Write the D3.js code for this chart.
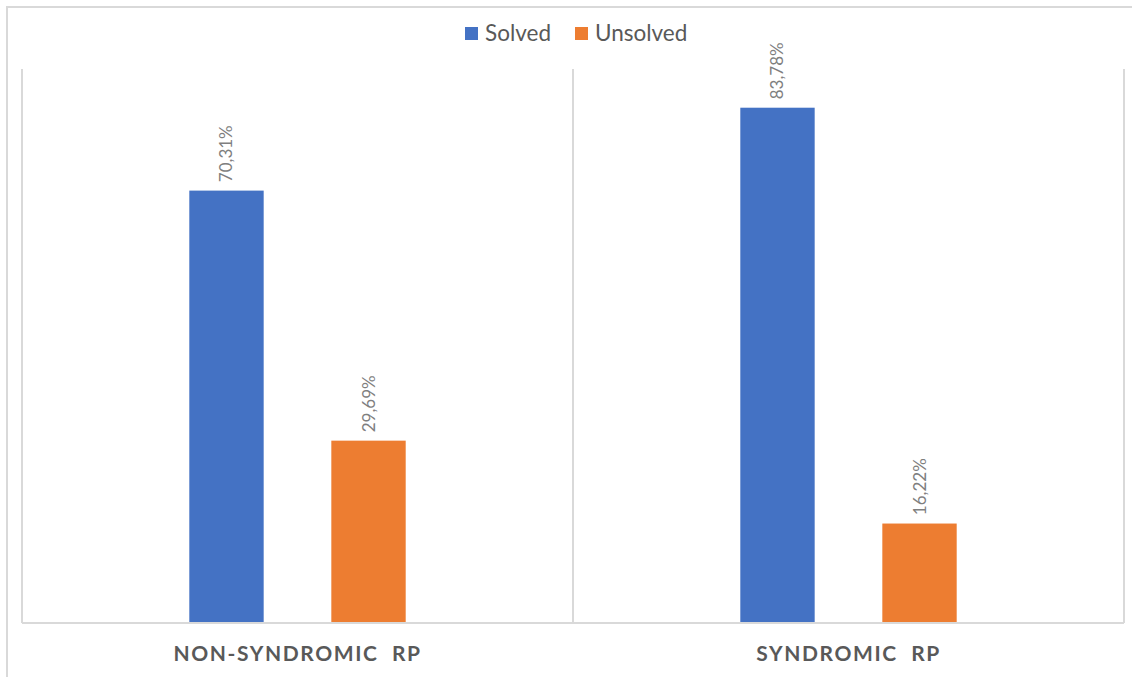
<!DOCTYPE html>
<html>
<head>
<meta charset="utf-8">
<script src="https://cdn.jsdelivr.net/npm/d3@7"></script>
<style>
  html, body { margin: 0; padding: 0; background: #fff; }
  svg { display: block; }
</style>
</head>
<body>
<svg id="chart" width="1132" height="677"></svg>
<script>
const categories = ["NON-SYNDROMIC  RP", "SYNDROMIC  RP"];
const seriesNames = ["Solved", "Unsolved"];
const solvedValues = [70.31, 83.78];
const unsolvedValues = [29.69, 16.22];
const valueLabels = [["70,31%", "29,69%"], ["83,78%", "16,22%"]];
const colors = ["#4472C4", "#ED7D31"];

const svg = d3.select("#chart");
const W = 1132, H = 677;
const plot = { left: 22, right: 1124, top: 69, bottom: 623 };

// outer frame (extends past right/bottom edge of the picture)
svg.append("rect")
  .attr("x", 7).attr("y", 7).attr("width", W + 20).attr("height", H + 20)
  .attr("fill", "#fff").attr("stroke", "#d9d9d9").attr("stroke-width", 2);

const x0 = d3.scaleBand().domain(categories).range([plot.left, plot.right]).padding(0);
const x1 = d3.scaleBand().domain(seriesNames).range([0, x0.bandwidth()])
  .paddingInner(0.472).paddingOuter(1.176);
const y = d3.scaleLinear().domain([0, 90]).range([plot.bottom, plot.top]);

// category separators (vertical gridlines)
const bounds = [plot.left, ...categories.map(c => x0(c) + x0.bandwidth())];
svg.append("g").selectAll("line").data(bounds).join("line")
  .attr("x1", d => d).attr("x2", d => d)
  .attr("y1", plot.top).attr("y2", plot.bottom)
  .attr("stroke", "#d9d9d9").attr("stroke-width", 2);

const data = categories.map((c, i) => ({
  cat: c,
  vals: [
    { s: seriesNames[0], v: solvedValues[i], label: valueLabels[i][0], color: colors[0] },
    { s: seriesNames[1], v: unsolvedValues[i], label: valueLabels[i][1], color: colors[1] }
  ]
}));

const groups = svg.append("g").selectAll("g").data(data).join("g")
  .attr("transform", d => `translate(${x0(d.cat)},0)`);

groups.selectAll("rect").data(d => d.vals).join("rect")
  .attr("x", d => x1(d.s))
  .attr("width", x1.bandwidth())
  .attr("y", d => y(d.v))
  .attr("height", d => y(0) - y(d.v))
  .attr("fill", d => d.color)
  .attr("stroke", "#fff").attr("stroke-width", 0.6);

groups.selectAll("text").data(d => d.vals).join("text")
  .attr("transform", d => `translate(${x1(d.s) + x1.bandwidth() / 2 + 6},${y(d.v) - 8}) rotate(-90)`)
  .attr("text-anchor", "start")
  .attr("font-family", "Lato, 'Open Sans', sans-serif")
  .attr("font-size", 17)
  .attr("fill", "#7f7f7f")
  .text(d => d.label);

// x axis line
svg.append("line")
  .attr("x1", plot.left).attr("x2", plot.right)
  .attr("y1", plot.bottom).attr("y2", plot.bottom)
  .attr("stroke", "#d9d9d9").attr("stroke-width", 2);

// category labels via axis
const xAxis = svg.append("g")
  .attr("transform", `translate(0,${plot.bottom})`)
  .call(d3.axisBottom(x0).tickSize(0).tickPadding(23));
xAxis.select(".domain").remove();
xAxis.selectAll("text")
  .attr("font-family", "Lato, 'Open Sans', sans-serif")
  .attr("font-size", 21)
  .attr("font-weight", "bold")
  .attr("letter-spacing", "1.6px")
  .attr("fill", "#595959")
  .style("white-space", "pre");

// legend
const legend = svg.append("g");
const legendItems = [
  { name: seriesNames[0], color: colors[0], x: 465 },
  { name: seriesNames[1], color: colors[1], x: 575 }
];
const li = legend.selectAll("g").data(legendItems).join("g")
  .attr("transform", d => `translate(${d.x},27)`);
li.append("rect").attr("width", 13).attr("height", 13).attr("fill", d => d.color);
li.append("text")
  .attr("x", 20).attr("y", 14)
  .attr("font-family", "Lato, 'Open Sans', sans-serif")
  .attr("font-size", 22.5)
  .attr("fill", "#595959")
  .text(d => d.name);
</script>
</body>
</html>
